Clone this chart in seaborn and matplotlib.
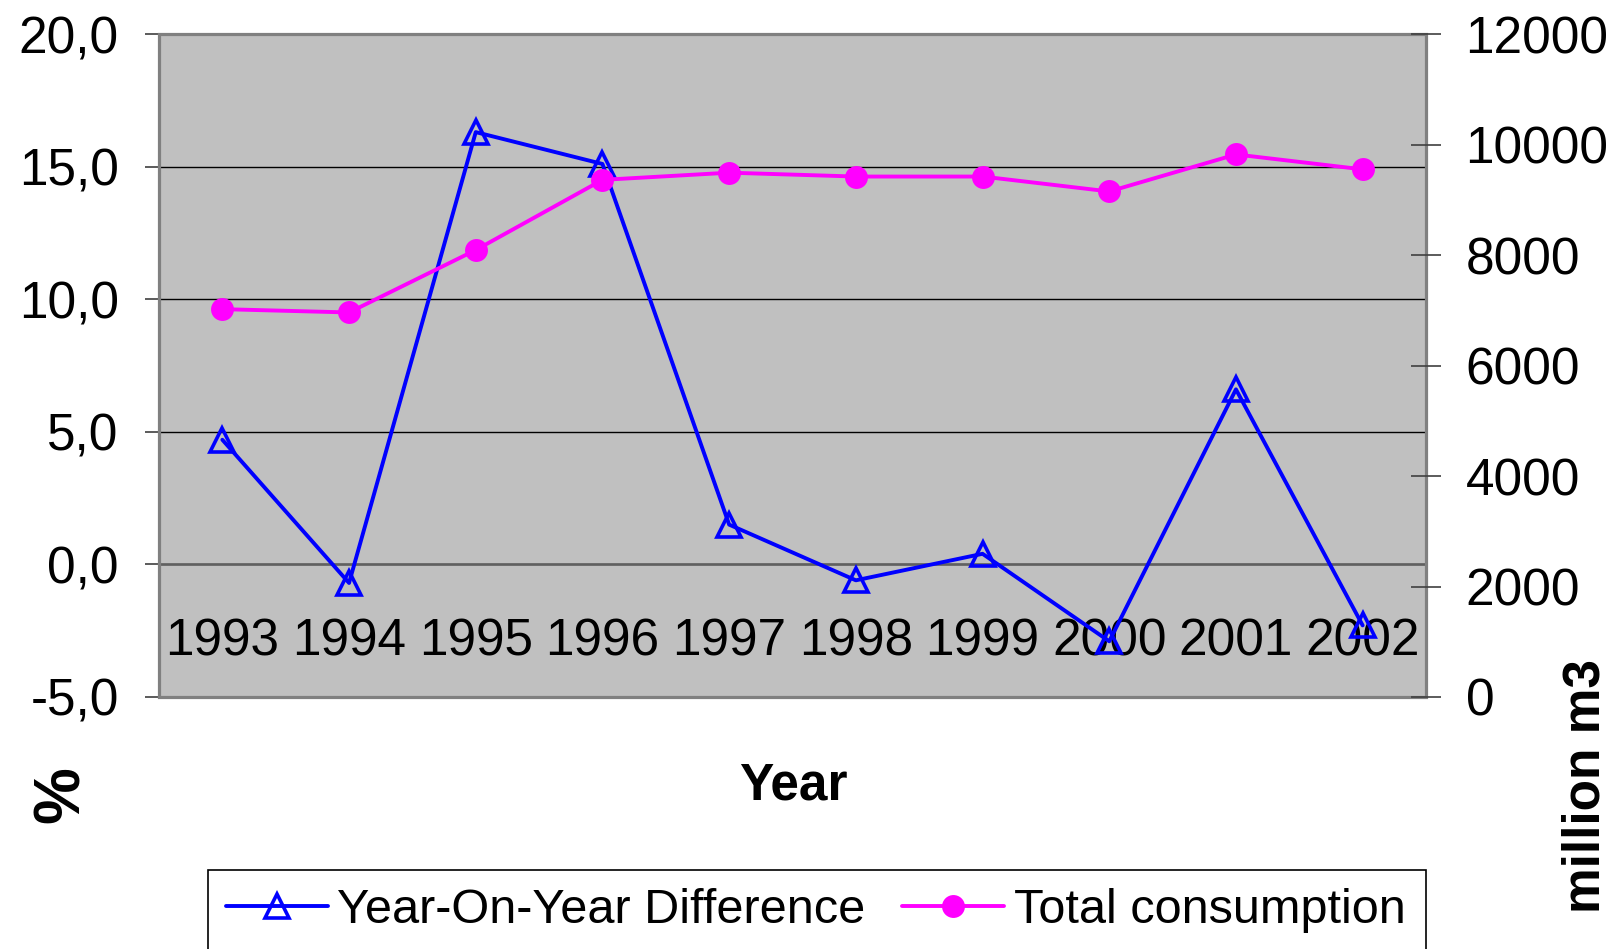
import numpy as np
import pandas as pd
import matplotlib
matplotlib.use('Agg')
import matplotlib.pyplot as plt
import seaborn as sns
from matplotlib.ticker import FuncFormatter
from matplotlib.patches import Rectangle

# ---- data ----
years = ['1993', '1994', '1995', '1996', '1997', '1998', '1999', '2000', '2001', '2002']
yoy_diff = [4.7, -0.7, 16.3, 15.1, 1.5, -0.6, 0.4, -2.9, 6.6, -2.3]
total_consumption = [7020, 6960, 8090, 9360, 9490, 9420, 9420, 9150, 9820, 9550]
left_ticks = [-5, 0, 5, 10, 15, 20]
right_ticks = [0, 2000, 4000, 6000, 8000, 10000, 12000]
series_names = ['Year-On-Year Difference', 'Total consumption']

sns.set_style('white')
plt.rcParams['font.family'] = ['Liberation Sans', 'DejaVu Sans']
plt.rcParams['text.color'] = 'black'
plt.rcParams['xtick.labelcolor'] = 'black'
plt.rcParams['ytick.labelcolor'] = 'black'

W, H = 1621, 949
fig = plt.figure(figsize=(W / 100, H / 100), dpi=100)
L, R, T, B = 159, 1426, 34, 697
ax = fig.add_axes([L / W, 1 - B / H, (R - L) / W, (B - T) / H])
ax.set_facecolor('#C0C0C0')

pos = np.arange(len(years))
df = pd.DataFrame({'pos': pos, 'yoy': yoy_diff, 'total': total_consumption})

sns.lineplot(data=df, x='pos', y='yoy', ax=ax, color='#0000FF', linewidth=2.8,
             marker='^', markersize=17, markerfacecolor='none',
             markeredgecolor='#0000FF', markeredgewidth=2.6, legend=False, zorder=3)
ax2 = ax.twinx()
sns.lineplot(data=df, x='pos', y='total', ax=ax2, color='#FF00FF', linewidth=2.8,
             marker='o', markersize=16.5, markerfacecolor='#FF00FF',
             markeredgecolor='#FF00FF', markeredgewidth=0, legend=False, zorder=3)
h1 = ax.get_lines()[0]
h2 = ax2.get_lines()[0]

ax.set_xlabel('')
ax.set_ylabel('')
ax2.set_xlabel('')
ax2.set_ylabel('')

ax.set_xlim(-0.5, len(years) - 0.5)
ax.set_ylim(-5, 20)
ax2.set_ylim(0, 12000)

# left axis
ax.set_yticks(left_ticks)
ax.yaxis.set_major_formatter(FuncFormatter(lambda v, p: f"{v:.1f}".replace('.', ',')))
ax.tick_params(axis='y', direction='out', length=10, width=1.2, color='#404040',
               pad=19, labelsize=37, labelcolor='black')
ax.yaxis.grid(True, color='black', linewidth=1.0)
ax.set_axisbelow(True)

# x axis crossing at 0
ax.spines['bottom'].set_position(('data', 0))
ax.spines['bottom'].set_color('#606060')
ax.spines['bottom'].set_linewidth(1.8)
ax.spines['bottom'].set_zorder(2.5)
ax.set_xticks(pos)
ax.set_xticklabels(years)
ax.tick_params(axis='x', which='major', length=0, pad=38, labelsize=37,
               labelcolor='black')
ax.set_xticks(np.arange(-0.5, len(years), 1.0), minor=True)
ax.tick_params(axis='x', which='minor', direction='out', length=11, width=1.2,
               color='#303030')
for s in ['top', 'right', 'left']:
    ax.spines[s].set_visible(False)
for s in ['top', 'right', 'left', 'bottom']:
    ax2.spines[s].set_visible(False)

ax.add_patch(Rectangle((0, 0), 1, 1, transform=ax.transAxes, fill=False,
                       edgecolor='#808080', linewidth=2.3, clip_on=False, zorder=5))

# right axis
ax2.set_yticks(right_ticks)
ax2.yaxis.set_major_formatter(FuncFormatter(lambda v, p: f"{int(v)}"))
ax2.tick_params(axis='y', direction='inout', length=21, width=1.2, color='#404040',
                pad=18, labelsize=37, labelcolor='black')

# axis titles
fig.text(793 / W, 1 - 786 / H, 'Year', ha='center', va='center', fontsize=37,
         fontweight='bold', color='black')
fig.text(62 / W, 1 - 795 / H, '%', ha='center', va='center', fontsize=46,
         fontweight='bold', rotation=90, color='black')
fig.text(1586 / W, 1 - 786 / H, 'million m3', ha='center', va='center', fontsize=37,
         fontweight='bold', rotation=90, color='black')

# legend (box runs past the bottom edge as in the original)
fig.add_artist(Rectangle((208 / W, -0.05), (1426 - 208) / W, (1 - 870 / H) + 0.05,
                         transform=fig.transFigure, fill=False, edgecolor='black',
                         linewidth=1.2))
leg = fig.legend([h1, h2], series_names, loc='upper left',
                 bbox_to_anchor=(210 / W, 1 - 872 / H), bbox_transform=fig.transFigure,
                 ncol=2, frameon=False,
                 fontsize=35, handlelength=2.1, handletextpad=0.2, columnspacing=0.75,
                 borderpad=0.32, borderaxespad=0)
for t in leg.get_texts():
    t.set_color('black')

fig.savefig('out.png', dpi=100)
